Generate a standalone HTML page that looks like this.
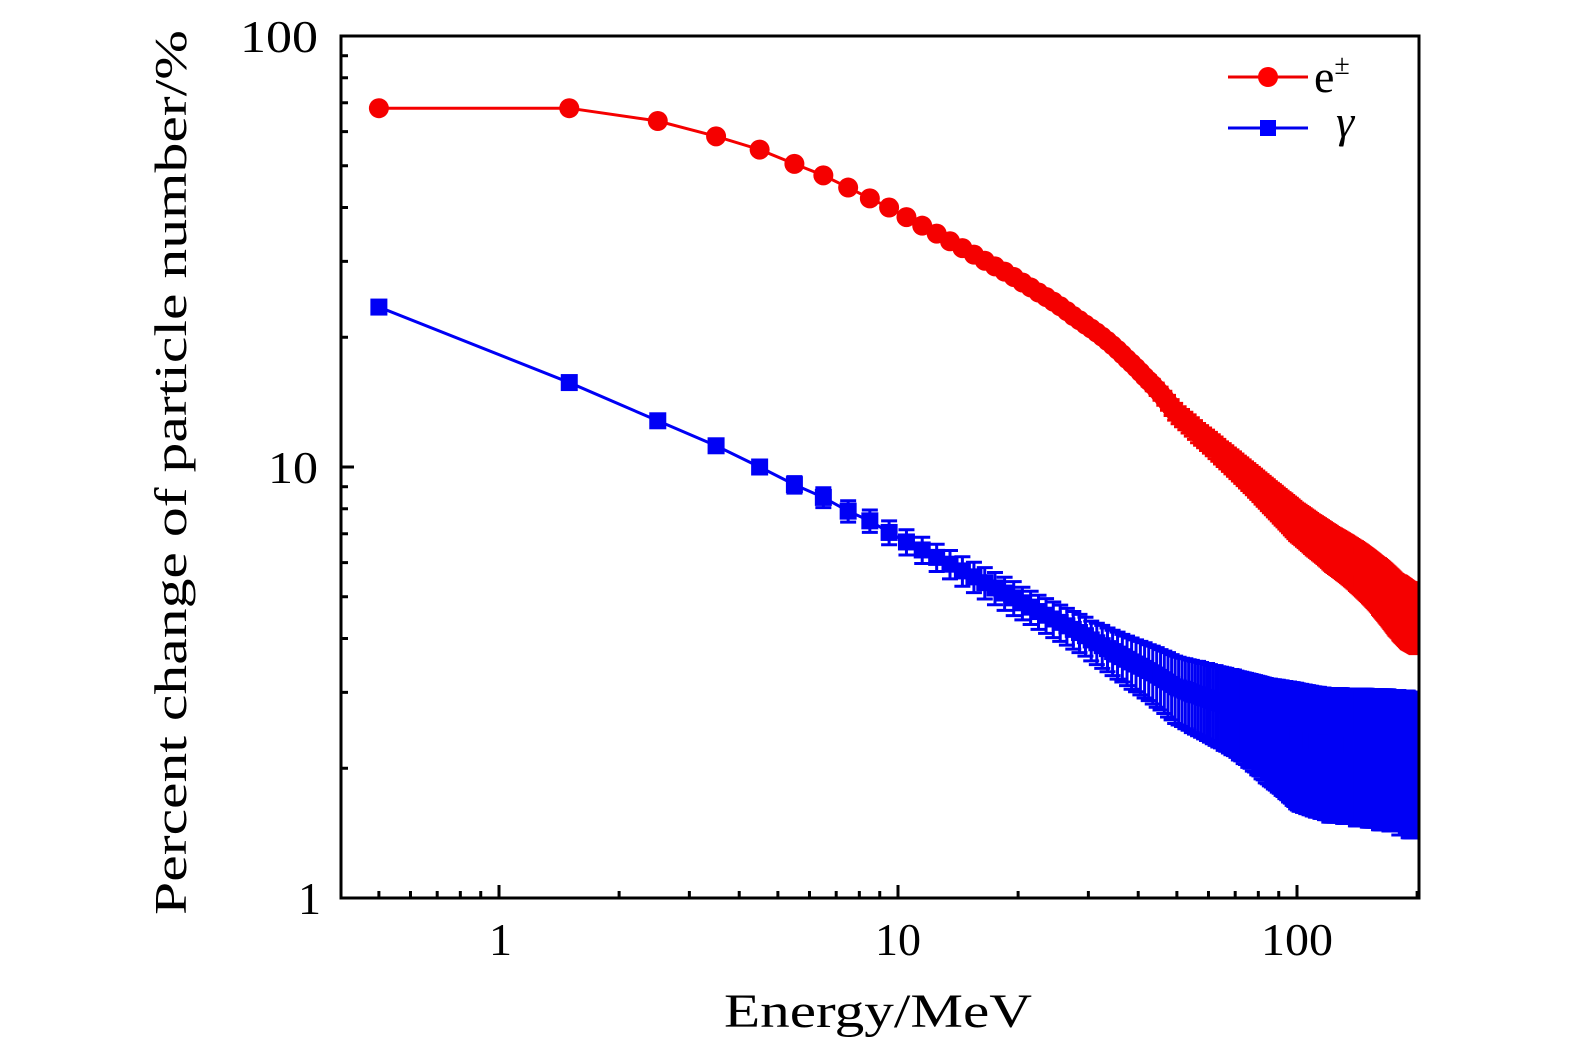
<!DOCTYPE html>
<html><head><meta charset="utf-8"><style>
html,body{margin:0;padding:0;background:#fff}
svg{display:block}
text{font-family:"Liberation Serif","DejaVu Serif",serif;fill:#000}
</style></head><body>
<svg id="chart" width="1575" height="1053" viewBox="0 0 1575 1053" xmlns="http://www.w3.org/2000/svg">
<g id="series"></g>
<g id="axes"></g>
<text x="724" y="1027" font-size="48" textLength="308" lengthAdjust="spacingAndGlyphs">Energy/MeV</text>
<text x="0" y="0" font-size="46" textLength="885" lengthAdjust="spacingAndGlyphs" transform="translate(186,915) rotate(-90)">Percent change of particle number/%</text>
<g>
<line x1="1228" y1="77" x2="1308" y2="77" stroke="#e00" stroke-width="3"/>
<circle cx="1268" cy="77" r="10" fill="#f00"/>
<text x="1314" y="92" font-size="46">e<tspan font-size="28" dy="-18">±</tspan></text>
<line x1="1228" y1="128" x2="1308" y2="128" stroke="#00e" stroke-width="3"/>
<rect x="1260" y="120" width="16" height="16" fill="#00f"/>
<text x="1336" y="137" font-size="46" font-style="italic">γ</text>
</g>
</svg>
<script>
const energies = [];
for (let i = 0; i < 200; i++) energies.push(i + 0.5);
const electronValues = [68,68,63.5,58.5,54.5,50.5,47.5,44.5,42,40,
38,36.3,34.8,33.4,32.2,31.1,30.1,29.2,28.4,27.6,
26.8,26.1,25.4,24.8,24.2,23.6,23.0,22.4,21.9,21.4,
20.95,20.5,20.05,19.6,19.15,18.7,18.25,17.8,17.4,17.0,16.6,16.2,15.85,15.5,15.15,14.8,14.45,14.1,13.75,13.45,
13.2,13.0,12.8,12.6,12.4,12.2,12.0,11.85,11.7,11.55,11.4,11.25,11.1,10.95,10.8,10.68,10.55,10.42,10.3,10.18,
10.06,9.94,9.83,9.72,9.61,9.5,9.4,9.3,9.2,9.1,9.0,8.9,8.81,8.72,8.63,8.54,8.46,8.38,8.3,8.22,8.14,8.06,7.99,7.92,7.85,7.78,7.71,7.64,7.57,7.5,
7.45,7.4,7.35,7.3,7.25,7.2,7.15,7.1,7.05,7.0,6.96,6.92,6.88,6.84,6.8,6.76,6.72,6.68,6.64,6.6,
6.56,6.52,6.48,6.45,6.42,6.39,6.36,6.33,6.3,6.27,6.24,6.21,6.18,6.15,6.12,6.09,6.06,6.03,6.0,5.97,
5.94,5.91,5.88,5.85,5.82,5.79,5.76,5.73,5.7,5.67,5.64,5.61,5.58,5.55,5.52,5.49,5.46,5.43,5.4,5.37,
5.34,5.31,5.28,5.25,5.22,5.19,5.16,5.13,5.1,5.07,5.04,5.01,4.98,4.95,4.92,4.89,4.86,4.84,4.82,4.8,
4.78,4.76,4.74,4.72,4.7,4.68,4.66,4.64,4.62,4.6,4.59,4.58,4.57,4.56,4.55,4.54,4.53,4.52,4.51,4.5];
const electronErrors = [0,0,0,0,0,0,0,0,0,0,0,0,0,0,0,0,0,0,0,0,
0.05,0.05,0.06,0.07,0.08,0.09,0.1,0.11,0.12,0.13,
0.15,0.17,0.2,0.22,0.25,0.27,0.3,0.32,0.35,0.37,0.4,0.42,0.45,0.47,0.5,0.52,0.54,0.56,0.58,0.6,
0.6,0.6,0.6,0.61,0.61,0.61,0.62,0.62,0.62,0.63,0.63,0.63,0.64,0.64,0.64,0.65,0.65,0.65,0.66,0.66,
0.66,0.66,0.67,0.67,0.67,0.68,0.68,0.68,0.69,0.69,0.69,0.7,0.7,0.7,0.71,0.71,0.71,0.72,0.72,0.72,0.73,0.73,0.73,0.74,0.74,0.74,0.75,0.75,0.75,0.75,
0.75,0.75,0.75,0.75,0.75,0.75,0.75,0.75,0.75,0.75,0.75,0.75,0.75,0.75,0.75,0.75,0.75,0.75,0.75,0.75,
0.76,0.76,0.76,0.76,0.76,0.76,0.76,0.76,0.76,0.76,0.76,0.76,0.76,0.76,0.76,0.76,0.76,0.76,0.76,0.76,
0.77,0.77,0.77,0.77,0.77,0.77,0.77,0.77,0.77,0.77,0.77,0.77,0.77,0.77,0.77,0.77,0.77,0.77,0.77,0.77,
0.79,0.79,0.79,0.79,0.79,0.79,0.79,0.79,0.79,0.79,0.79,0.79,0.79,0.79,0.79,0.79,0.79,0.79,0.79,0.79,
0.81,0.81,0.81,0.81,0.81,0.81,0.81,0.81,0.81,0.81,0.81,0.81,0.81,0.81,0.81,0.81,0.81,0.81,0.81,0.81];
const gammaValues = [23.5,15.7,12.8,11.2,10,9.1,8.5,7.9,7.5,7.05,
6.7,6.42,6.17,5.95,5.74,5.56,5.39,5.24,5.1,4.97,
4.84,4.73,4.62,4.53,4.44,4.36,4.28,4.2,4.13,4.06,
3.97,3.91,3.85,3.79,3.73,3.68,3.63,3.58,3.53,3.49,3.45,3.41,3.37,3.33,3.29,3.25,3.21,3.17,3.13,3.09,
3.07,3.05,3.03,3.01,2.99,2.97,2.96,2.94,2.92,2.91,2.89,2.87,2.86,2.84,2.83,2.81,2.8,2.78,2.77,2.76,
2.74,2.72,2.71,2.69,2.68,2.66,2.65,2.63,2.62,2.6,2.59,2.57,2.56,2.54,2.53,2.52,2.51,2.5,2.49,2.48,2.47,2.46,2.45,2.44,2.43,2.42,2.41,2.4,2.39,2.38,
2.37,2.36,2.36,2.35,2.35,2.34,2.34,2.33,2.33,2.32,2.32,2.31,2.31,2.31,2.3,2.3,2.3,2.29,2.29,2.29,
2.28,2.28,2.28,2.28,2.28,2.28,2.28,2.28,2.28,2.28,2.27,2.27,2.27,2.27,2.27,2.27,2.27,2.27,2.27,2.27,
2.26,2.26,2.26,2.26,2.26,2.26,2.26,2.26,2.26,2.26,2.25,2.25,2.25,2.25,2.25,2.25,2.25,2.25,2.25,2.25,
2.24,2.24,2.24,2.24,2.24,2.24,2.24,2.24,2.24,2.24,2.23,2.23,2.23,2.23,2.23,2.23,2.23,2.23,2.23,2.23,
2.21,2.21,2.21,2.21,2.21,2.21,2.21,2.21,2.21,2.21,2.19,2.19,2.19,2.19,2.19,2.19,2.19,2.19,2.19,2.19];
const gammaErrors = [0.3,0.35,0.35,0.35,0.35,0.4,0.45,0.45,0.45,0.45,
0.45,0.45,0.45,0.45,0.45,0.45,0.45,0.45,0.45,0.45,
0.42,0.42,0.42,0.42,0.42,0.42,0.42,0.42,0.42,0.42,
0.42,0.43,0.44,0.44,0.45,0.46,0.46,0.47,0.48,0.48,0.49,0.5,0.5,0.51,0.52,0.52,0.53,0.54,0.54,0.55,
0.55,0.55,0.56,0.56,0.57,0.57,0.58,0.58,0.58,0.59,0.59,0.59,0.6,0.6,0.6,0.61,0.61,0.61,0.62,0.62,
0.62,0.63,0.63,0.64,0.64,0.65,0.65,0.66,0.66,0.67,0.67,0.68,0.68,0.69,0.69,0.7,0.7,0.71,0.71,0.72,0.72,0.73,0.73,0.74,0.74,0.75,0.75,0.76,0.76,0.77,
0.77,0.77,0.77,0.77,0.77,0.77,0.77,0.77,0.77,0.77,0.77,0.77,0.77,0.77,0.77,0.77,0.77,0.77,0.77,0.77,
0.78,0.78,0.78,0.78,0.78,0.78,0.78,0.78,0.78,0.78,0.78,0.78,0.78,0.78,0.78,0.78,0.78,0.78,0.78,0.78,
0.79,0.79,0.79,0.79,0.79,0.79,0.79,0.79,0.79,0.79,0.79,0.79,0.79,0.79,0.79,0.79,0.79,0.79,0.79,0.79,
0.8,0.8,0.8,0.8,0.8,0.8,0.8,0.8,0.8,0.8,0.8,0.8,0.8,0.8,0.8,0.8,0.8,0.8,0.8,0.8,
0.81,0.81,0.81,0.81,0.81,0.81,0.81,0.81,0.81,0.81,0.81,0.81,0.81,0.81,0.81,0.81,0.81,0.81,0.81,0.81];
const xTickLabels = ["1","10","100"];
const xTickValues = [1,10,100];
const yTickLabels = ["1","10","100"];
const yTickValues = [1,10,100];

const NS = "http://www.w3.org/2000/svg";
const L = 341, R = 1419, T = 36, B = 898;
const X0 = 499, XD = 399, Y0 = 898, YD = 431;
function xs(v){ return X0 + Math.log10(v) * XD; }
function ys(v){ return Y0 - Math.log10(v) * YD; }
function mk(tag, attrs, parent){
  const e = document.createElementNS(NS, tag);
  for (const k in attrs) e.setAttribute(k, attrs[k]);
  parent.appendChild(e);
  return e;
}
const series = document.getElementById('series');
const axes = document.getElementById('axes');

const defs = mk('defs', {}, series);
const cp = mk('clipPath', {id:'clip'}, defs);
mk('rect', {x:L, y:T, width:R-L, height:B-T}, cp);
const gClip = mk('g', {'clip-path':'url(#clip)'}, series);

function drawSeries(vals, errs, color, kind, name){
  const g = mk('g', {}, gClip);
  
  
  const pts = energies.map((e,i)=> xs(e).toFixed(2)+','+ys(vals[i]).toFixed(2)).join(' ');
  const line = mk('polyline', {points:pts, fill:'none', stroke:color, 'stroke-width':3}, g);
  
  
  energies.forEach((e,i)=>{
    const cx = xs(e);
    const er = errs[i];
    if (er > 0) {
      const y1 = ys(vals[i] + er), y2 = ys(Math.max(vals[i] - er, 0.01));
      const eb = mk('path', {d:`M${cx},${y1}V${y2}M${cx-8},${y1}H${cx+8}M${cx-8},${y2}H${cx+8}`, stroke:color, 'stroke-width':3, fill:'none'}, g);
      
      
    }
    let m;
    if (kind === 'circle') m = mk('circle', {cx:cx, cy:ys(vals[i]), r:10, fill:color}, g);
    else m = mk('rect', {x:cx-8.5, y:ys(vals[i])-8.5, width:17, height:17, fill:color}, g);
    
    
  });
}
drawSeries(gammaValues, gammaErrors, '#0000f5', 'rect', 'gamma');
drawSeries(electronValues, electronErrors, '#f50000', 'circle', 'electron');

const frame = mk('rect', {x:L, y:T, width:R-L, height:B-T, fill:'none', stroke:'#000', 'stroke-width':3}, axes);



for (let d = -1; d <= 2; d++) {
  for (let m = 1; m <= 9; m++) {
    const v = m * Math.pow(10, d);
    const x = xs(v);
    if (x < L || x > R) continue;
    const len = m === 1 ? 13 : 7;
    const t = mk('line', {x1:x, y1:B, x2:x, y2:B-len, stroke:'#000', 'stroke-width':3}, axes);
    
    
  }
}
const lw = {1:20, 2:46, 3:72};
xTickValues.forEach((v,i)=>{
  const s = xTickLabels[i];
  const t = mk('text', {x:xs(v) - lw[s.length]/2, y:955, 'font-size':46}, axes);
  if (s.length > 1) { t.setAttribute('textLength', lw[s.length]); t.setAttribute('lengthAdjust', 'spacingAndGlyphs'); }
  t.textContent = s;
  
  
});
for (let d = 0; d <= 1; d++) {
  for (let m = 1; m <= 9; m++) {
    const v = m * Math.pow(10, d);
    const y = ys(v);
    const len = m === 1 ? 13 : 7;
    const t = mk('line', {x1:L, y1:y, x2:L+len, y2:y, stroke:'#000', 'stroke-width':3}, axes);
    
    
  }
}
yTickValues.forEach((v,i)=>{
  const s = yTickLabels[i];
  const w = s.length === 1 ? 20 : (s.length === 2 ? 50 : 78);
  const t = mk('text', {x:318 - w, y:ys(v)+16, 'font-size':46}, axes);
  if (s.length > 1) { t.setAttribute('textLength', w); t.setAttribute('lengthAdjust', 'spacingAndGlyphs'); }
  t.textContent = s;
  
  
});
</script>
</body></html>
